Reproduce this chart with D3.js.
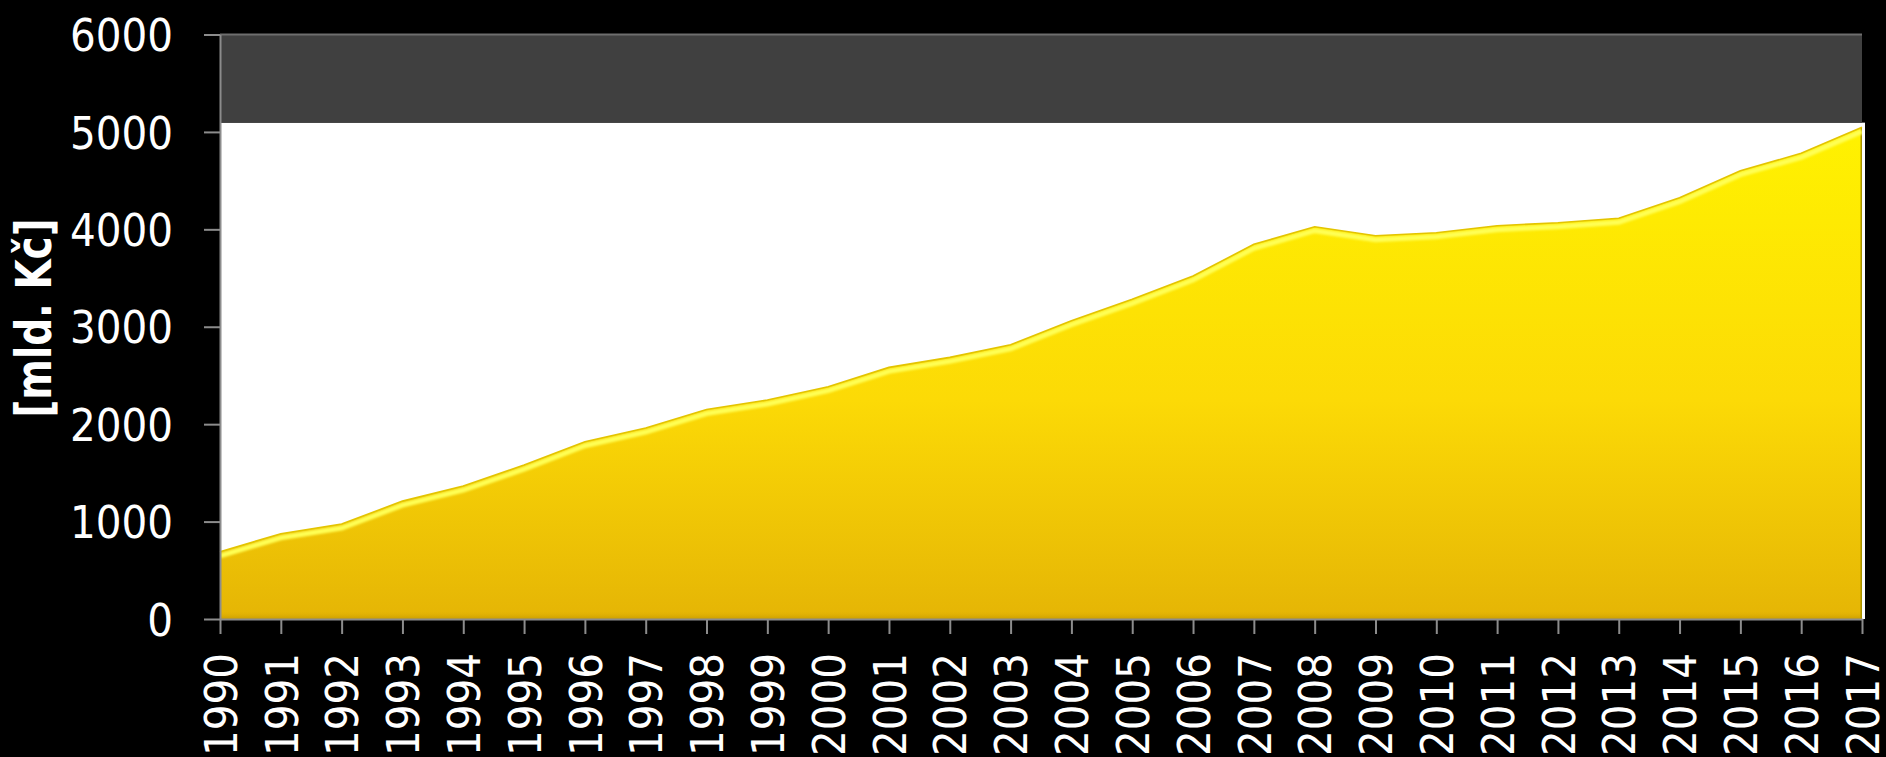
<!DOCTYPE html>
<html>
<head>
<meta charset="utf-8">
<script src="https://cdn.jsdelivr.net/npm/d3@7"></script>
<style>
  html, body { margin: 0; padding: 0; background: #000; }
  svg { display: block; }
  .lbl { font-family: "DejaVu Sans Condensed", "DejaVu Sans", sans-serif; font-stretch: condensed; fill: #fff; }
</style>
</head>
<body>
<svg id="chart" width="1886" height="757"></svg>
<script>
// ---- data ----
const years = ["1990","1991","1992","1993","1994","1995","1996","1997","1998","1999",
               "2000","2001","2002","2003","2004","2005","2006","2007","2008","2009",
               "2010","2011","2012","2013","2014","2015","2016","2017"];
const values = [690, 875, 975, 1210, 1365, 1580, 1820, 1960, 2150, 2248,
                2385, 2583, 2686, 2815, 3062, 3282, 3521, 3846, 4027, 3934,
                3965, 4037, 4068, 4113, 4325, 4602, 4780, 5047];
const yTicks = [0, 1000, 2000, 3000, 4000, 5000, 6000];
const yMax = 6000;
const bandFrom = 5095;   // value where the dark band of the plot area begins
const yTitle = "[mld. Kč]";

// ---- layout ----
const svg = d3.select("#chart");
const mLeft = 220, mRight = 1862, mTop = 34.5, mBottom = 619;

const x = d3.scalePoint().domain(years).range([mLeft, mRight]);
const y = d3.scaleLinear().domain([0, yMax]).range([mBottom, mTop]);

const defs = svg.append("defs");
const grad = defs.append("linearGradient").attr("id", "fillGrad")
  .attr("gradientUnits", "userSpaceOnUse")
  .attr("x1", 0).attr("x2", 0).attr("y1", y(5000)).attr("y2", y(0));
grad.append("stop").attr("offset", "0%").attr("stop-color", "#FFF200");
grad.append("stop").attr("offset", "55%").attr("stop-color", "#FCDA06");
grad.append("stop").attr("offset", "100%").attr("stop-color", "#E5B505");

const bot = defs.append("linearGradient").attr("id", "botGrad")
  .attr("x1", 0).attr("x2", 0).attr("y1", 0).attr("y2", 1);
bot.append("stop").attr("offset", "0%").attr("stop-color", "#E2B205").attr("stop-opacity", 0);
bot.append("stop").attr("offset", "100%").attr("stop-color", "#C99C00").attr("stop-opacity", 0.9);

defs.append("filter").attr("id", "blur").append("feGaussianBlur").attr("stdDeviation", 1.2);

const area = d3.area().x((d, i) => x(years[i])).y0(y(0)).y1(d => y(d));
const line = d3.line().x((d, i) => x(years[i])).y(d => y(d));

defs.append("clipPath").attr("id", "areaClip").append("path").attr("d", area(values));

// plot background
svg.append("rect").attr("x", mLeft).attr("y", y(bandFrom))
  .attr("width", mRight - mLeft + 3).attr("height", y(0) - y(bandFrom)).attr("fill", "#fff");
svg.append("rect").attr("x", mLeft).attr("y", y(yMax))
  .attr("width", mRight - mLeft).attr("height", y(bandFrom) - y(yMax)).attr("fill", "#404040");
svg.append("line").attr("x1", mLeft).attr("x2", mRight).attr("y1", y(yMax)).attr("y2", y(yMax))
  .attr("stroke", "#6e6e6e").attr("stroke-width", 2);

// area
svg.append("path").attr("d", area(values)).attr("fill", "url(#fillGrad)");
const g3d = svg.append("g").attr("clip-path", "url(#areaClip)");
g3d.append("rect").attr("x", mLeft).attr("y", y(0) - 8).attr("width", mRight - mLeft).attr("height", 8)
  .attr("fill", "url(#botGrad)");
g3d.append("line").attr("x1", mRight).attr("x2", mRight).attr("y1", y(5200)).attr("y2", y(0))
  .attr("stroke", "#A89200").attr("stroke-width", 3);
g3d.append("path").attr("d", line(values)).attr("transform", "translate(0,4)")
  .attr("fill", "none").attr("stroke", "#FFFF55").attr("stroke-width", 5).attr("filter", "url(#blur)");
svg.append("path").attr("d", line(values)).attr("fill", "none")
  .attr("stroke", "#E3C400").attr("stroke-width", 1.6);

// axes
const yAxis = svg.append("g").attr("transform", `translate(${mLeft},0)`)
  .call(d3.axisLeft(y).tickValues(yTicks).tickSize(16).tickSizeOuter(0).tickPadding(31)
        .tickFormat(d3.format("d")));
const xAxis = svg.append("g").attr("transform", `translate(0,${mBottom})`)
  .call(d3.axisBottom(x).tickSize(15).tickSizeOuter(0));

[yAxis, xAxis].forEach(a => {
  a.attr("font-family", null).attr("font-size", null);
  a.select(".domain").attr("stroke", "#8c8c8c").attr("stroke-width", 2);
  a.selectAll(".tick line").attr("stroke", "#8c8c8c").attr("stroke-width", 2);
});

yAxis.selectAll(".tick text").attr("class", "lbl").attr("font-size", 45).attr("dy", "0.36em");

xAxis.selectAll(".tick text").attr("class", "lbl").attr("font-size", 45)
  .attr("text-anchor", "end")
  .attr("transform", "translate(0,34) rotate(-90)")
  .attr("x", 0).attr("y", 0).attr("dy", "0.36em");

// y title
svg.append("text").attr("class", "lbl")
  .attr("transform", `translate(51,318) rotate(-90)`)
  .attr("text-anchor", "middle").attr("font-size", 49).attr("font-weight", "bold")
  .attr("textLength", 199).attr("lengthAdjust", "spacingAndGlyphs")
  .text(yTitle);
</script>
</body>
</html>
